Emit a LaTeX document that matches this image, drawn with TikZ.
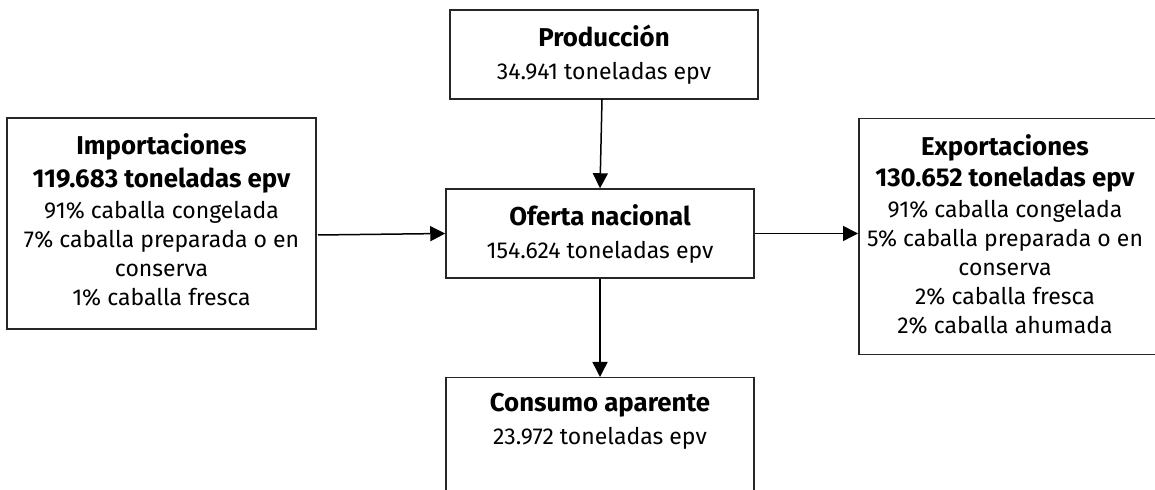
\documentclass[tikz,border=0pt]{standalone}
\usepackage{fontspec}
\setmainfont{Fira Sans}
\usetikzlibrary{arrows.meta}
\newcommand{\hdr}[1]{{\fontsize{12.9pt}{15.5pt}\selectfont\bfseries #1}}
\begin{document}
\begin{tikzpicture}[x=0.5pt,y=-0.5pt,
  box/.style={draw=black!85,line width=0.75pt,rectangle,inner sep=0pt,align=center,
    font=\fontsize{11.5pt}{14.5pt}\selectfont},
  txt/.style={inner sep=0pt,align=center,font=\fontsize{11.5pt}{14.5pt}\selectfont},
  flow/.style={draw=black,line width=0.75pt,-{Triangle[length=7.5pt,width=7.5pt]}}]
\useasboundingbox (0,0) rectangle (1155,490);
\clip (0,0) rectangle (1155,490);
\node[box,minimum width=154pt,minimum height=44.5pt] (prod) at (604,54.5)
  {\hdr{Producción}\\[2pt]34.941 toneladas epv};
\node[box,minimum width=154pt,minimum height=44.5pt] (oferta) at (600,233.5)
  {\hdr{Oferta nacional}\\[2pt]154.624 toneladas epv};
\node[box,minimum width=154.5pt,minimum height=105.5pt] (imp) at (161.5,223.5) {};
\node[txt] (imptxt) at (161.5,220)
  {\hdr{Importaciones}\\[2pt]\hdr{119.683 toneladas epv}\\[1pt]91\% caballa congelada\\7\% caballa preparada o en\\conserva\\1\% caballa fresca};
\node[box,minimum width=160pt,minimum height=118pt,anchor=north west] (exp) at (858,118) {};
\node[txt] (exptxt) at (1005,234)
  {\hdr{Exportaciones}\\[1pt]\hdr{130.652 toneladas epv}\\[1pt]91\% caballa congelada\\5\% caballa preparada o en\\conserva\\2\% caballa fresca\\2\% caballa ahumada};
\node[box,minimum width=154pt,minimum height=80pt,anchor=north] (cons) at (600,377) {};
\node[txt,anchor=north] (constxt) at (600,393)
  {\hdr{Consumo aparente}\\[2pt]23.972 toneladas epv};
\draw[flow] (602,99) -- (oferta.north);
\draw[flow] (oferta.south) -- (cons.north);
\draw[flow] (318,235) -- (oferta.west);
\draw[flow] (oferta.east) -- (exp.west |- oferta.east);
\end{tikzpicture}
\end{document}
